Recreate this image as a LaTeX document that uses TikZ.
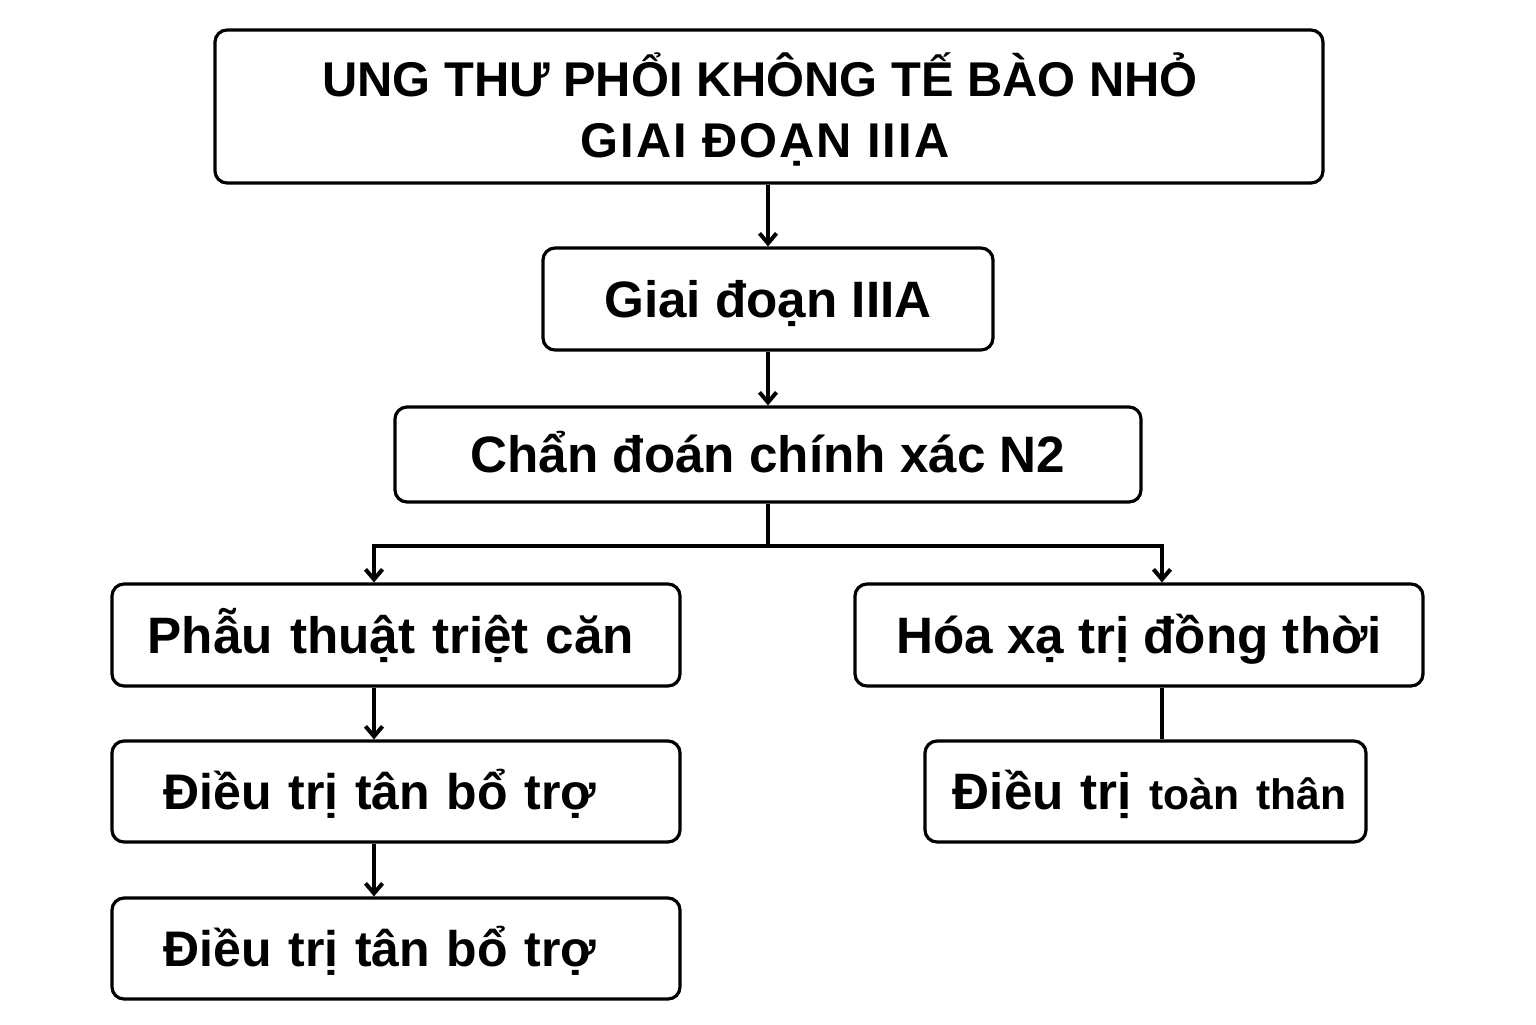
\documentclass[tikz,border=0pt]{standalone}
\usepackage{fontspec}
\setmainfont{Liberation Sans}
\usetikzlibrary{arrows.meta}
\begin{document}
\begin{tikzpicture}[x=0.5pt,y=-0.5pt,
  box/.style={draw,line width=1.6pt,rounded corners=6pt,fill=white,inner sep=0pt,
    font=\bfseries\fontsize{25.6}{30}\selectfont,align=center,text height=18pt,text depth=0pt},
  conn/.style={line width=1.6pt},
  arr/.style={conn,-{Straight Barb[length=5pt,width=8.5pt,line width=2pt]}}]
\useasboundingbox (0,0) rectangle (1536,1024);
\node[box,minimum width=554pt,minimum height=76.5pt,text height=51pt,
  font=\bfseries\fontsize{24.4}{30.5}\selectfont] (title) at (769,106.5)
  {\hspace*{-9pt}UNG THƯ PHỔI KHÔNG TẾ BÀO NHỎ\\\hspace*{-4pt}{\addfontfeature{LetterSpace=4}GIAI ĐOẠN IIIA}};
\node[box,minimum width=225pt,minimum height=51pt] (b2) at (768,299) {Giai đoạn IIIA};
\node[box,minimum width=373pt,minimum height=47.5pt] (b3) at (768,454.5) {Chẩn đoán chính xác N2};
\node[box,minimum width=284pt,minimum height=51pt,text width=284pt] (b4) at (396,635) {\hspace*{-5pt}Phẫu thuật triệt căn};
\node[box,minimum width=284pt,minimum height=51pt] (b5) at (1139,635) {Hóa xạ trị đồng thời};
\node[box,minimum width=284pt,minimum height=50.5pt,text width=284pt,font=\bfseries\fontsize{25}{30}\selectfont] (b6) at (396,791.5) {\hspace*{-16pt}Điều trị tân bổ trợ};
\node[box,minimum width=284pt,minimum height=50.5pt,text width=284pt,font=\bfseries\fontsize{25}{30}\selectfont] (b7) at (396,948.5) {\hspace*{-16pt}Điều trị tân bổ trợ};
\node[box,minimum width=220.5pt,minimum height=50.5pt,text width=220.5pt] (b8) at (1145.5,791.5)
  {\hspace*{4pt}Điều trị {\fontsize{21.3}{25}\selectfont toàn thân}};
\coordinate (split) at (768,546);
\coordinate (jl) at (374,546);
\coordinate (jr) at (1162,546);
\draw[arr] (b2.north |- title.south) -- (b2.north);
\draw[arr] (b2.south) -- (b3.north);
\draw[conn] (b3.south) -- (split);
\draw[conn,line cap=rect] (jl) -- (jr);
\draw[arr] (jl) -- (jl |- b4.north);
\draw[arr] (jr) -- (jr |- b5.north);
\draw[arr] (jl |- b4.south) -- (jl |- b6.north);
\draw[arr] (jl |- b6.south) -- (jl |- b7.north);
\draw[conn] (jr |- b5.south) -- (jr |- b8.north);
\end{tikzpicture}
\end{document}
